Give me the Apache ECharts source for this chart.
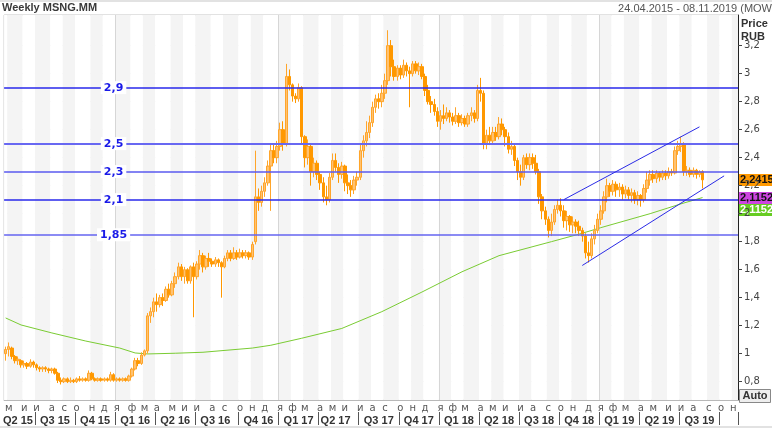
<!DOCTYPE html>
<html>
<head>
<meta charset="utf-8">
<script src="https://cdn.jsdelivr.net/npm/echarts@6/dist/echarts.min.js"></script>
<style>
  html, body { margin: 0; padding: 0; background: #fff; }
  #chart { width: 772px; height: 428px; }
</style>
</head>
<body>
<div id="chart"></div>
<script>
// weekly bars, 24.04.2015 .. 08.11.2019
const weekCount = 238;
const monthLetters = ["я", "ф", "м", "а", "м", "и", "и", "а", "с", "о", "н", "д"];

// [open, close, low, high]
const candles = [
  [1.00,1.03,0.95,1.05],[1.03,1.05,0.98,1.08],[1.04,0.98,0.96,1.05],[0.98,0.95,0.93,0.99],[0.95,0.96,0.92,0.98],
  [0.95,0.92,0.90,0.96],[0.92,0.93,0.90,0.95],[0.93,0.91,0.89,0.94],[0.91,0.94,0.90,0.96],[0.94,0.92,0.90,0.95],
  [0.92,0.90,0.88,0.93],[0.90,0.89,0.87,0.91],[0.89,0.90,0.87,0.91],[0.90,0.89,0.87,0.91],[0.89,0.88,0.86,0.90],
  [0.88,0.89,0.86,0.90],[0.89,0.86,0.85,0.90],[0.86,0.81,0.79,0.87],[0.81,0.80,0.78,0.83],[0.80,0.82,0.79,0.83],
  [0.82,0.80,0.79,0.83],[0.80,0.81,0.79,0.83],[0.81,0.80,0.79,0.82],[0.80,0.82,0.79,0.83],[0.82,0.81,0.80,0.84],
  [0.81,0.82,0.80,0.83],[0.82,0.81,0.80,0.83],[0.81,0.86,0.80,0.88],[0.86,0.82,0.81,0.87],[0.82,0.81,0.80,0.83],
  [0.81,0.82,0.80,0.83],[0.82,0.81,0.80,0.83],[0.81,0.82,0.80,0.83],[0.82,0.81,0.80,0.83],[0.81,0.85,0.80,0.87],
  [0.85,0.81,0.80,0.86],[0.81,0.82,0.80,0.83],[0.82,0.81,0.80,0.83],[0.81,0.82,0.80,0.83],[0.82,0.81,0.80,0.83],
  [0.81,0.84,0.80,0.85],[0.84,0.89,0.83,0.90],[0.89,0.95,0.88,0.97],[0.95,0.93,0.91,0.97],[0.93,0.99,0.92,1.01],
  [0.99,1.02,0.98,1.03],[1.02,1.27,1.00,1.29],[1.27,1.30,1.22,1.33],[1.30,1.37,1.26,1.40],[1.37,1.35,1.30,1.43],
  [1.35,1.40,1.33,1.42],[1.40,1.38,1.34,1.43],[1.38,1.46,1.37,1.48],[1.46,1.42,1.40,1.50],[1.42,1.50,1.41,1.52],
  [1.50,1.55,1.47,1.58],[1.55,1.62,1.53,1.65],[1.62,1.55,1.52,1.64],[1.55,1.60,1.50,1.62],[1.60,1.52,1.50,1.61],
  [1.52,1.62,1.50,1.63],[1.62,1.55,1.26,1.65],[1.55,1.64,1.53,1.66],[1.64,1.70,1.60,1.74],[1.70,1.62,1.58,1.72],
  [1.62,1.68,1.60,1.70],[1.68,1.66,1.62,1.72],[1.66,1.64,1.62,1.68],[1.64,1.67,1.62,1.69],[1.67,1.65,1.62,1.68],
  [1.65,1.62,1.40,1.66],[1.62,1.68,1.61,1.70],[1.68,1.72,1.66,1.74],[1.72,1.68,1.66,1.74],[1.68,1.72,1.67,1.76],
  [1.72,1.69,1.67,1.74],[1.69,1.72,1.68,1.75],[1.72,1.70,1.68,1.74],[1.70,1.72,1.68,1.74],[1.72,1.69,1.67,1.73],
  [1.69,1.78,1.67,1.80],[1.80,2.12,1.78,2.45],[2.12,2.08,2.02,2.18],[2.08,2.16,2.05,2.20],[2.16,2.22,2.12,2.26],
  [2.22,2.34,2.20,2.38],[2.34,2.45,2.02,2.50],[2.45,2.40,2.36,2.50],[2.40,2.48,2.36,2.52],[2.48,2.60,2.45,2.65],
  [2.60,2.50,2.45,2.66],[2.50,2.98,2.48,3.07],[2.98,2.92,2.88,3.03],[2.92,2.84,2.80,2.93],[2.84,2.82,2.79,2.86],
  [2.82,2.90,2.80,2.93],[2.90,2.55,2.50,2.91],[2.55,2.40,2.33,2.56],[2.40,2.48,2.35,2.53],[2.48,2.30,2.20,2.50],
  [2.30,2.36,2.26,2.40],[2.36,2.28,2.24,2.38],[2.28,2.22,2.17,2.30],[2.22,2.12,2.08,2.26],[2.12,2.10,2.06,2.20],
  [2.10,2.26,2.08,2.29],[2.26,2.38,2.24,2.43],[2.38,2.33,2.30,2.43],[2.33,2.28,2.22,2.36],[2.28,2.34,2.25,2.37],
  [2.34,2.22,2.16,2.35],[2.22,2.20,2.14,2.28],[2.20,2.17,2.12,2.24],[2.17,2.24,2.14,2.27],[2.24,2.26,2.20,2.30],
  [2.26,2.45,2.24,2.50],[2.45,2.52,2.40,2.56],[2.52,2.58,2.48,2.66],[2.58,2.65,2.54,2.70],[2.65,2.76,2.62,2.80],
  [2.76,2.82,2.72,2.85],[2.82,2.80,2.75,2.86],[2.80,2.86,2.76,2.92],[2.86,2.95,2.82,3.00],[2.95,3.20,2.92,3.31],
  [3.20,3.05,2.98,3.24],[3.05,2.98,2.95,3.10],[2.98,3.04,2.95,3.06],[3.04,2.99,2.96,3.06],[2.99,3.06,2.97,3.10],
  [3.06,3.02,2.98,3.08],[3.02,3.00,2.76,3.05],[3.00,3.07,2.98,3.09],[3.07,3.02,3.00,3.09],[3.02,3.05,2.99,3.08],
  [3.05,2.98,2.96,3.07],[2.98,2.88,2.84,3.00],[2.88,2.80,2.78,2.92],[2.80,2.78,2.72,2.84],[2.78,2.73,2.70,2.82],
  [2.73,2.66,2.62,2.76],[2.66,2.70,2.60,2.74],[2.70,2.68,2.64,2.78],[2.68,2.72,2.66,2.76],[2.72,2.69,2.65,2.74],
  [2.69,2.66,2.63,2.72],[2.66,2.70,2.64,2.76],[2.70,2.65,2.62,2.72],[2.65,2.68,2.63,2.71],[2.68,2.64,2.62,2.70],
  [2.64,2.70,2.62,2.72],[2.70,2.72,2.66,2.76],[2.72,2.68,2.65,2.74],[2.68,2.88,2.66,2.92],[2.88,2.86,2.80,2.97],
  [2.86,2.50,2.46,2.88],[2.50,2.56,2.46,2.60],[2.56,2.52,2.49,2.62],[2.52,2.58,2.50,2.62],[2.58,2.55,2.52,2.62],
  [2.55,2.64,2.53,2.69],[2.64,2.60,2.56,2.68],[2.60,2.55,2.48,2.62],[2.55,2.46,2.43,2.58],[2.46,2.48,2.42,2.52],
  [2.48,2.38,2.34,2.50],[2.38,2.30,2.24,2.40],[2.30,2.26,2.20,2.35],[2.26,2.40,2.24,2.42],[2.40,2.35,2.32,2.43],
  [2.35,2.40,2.31,2.43],[2.40,2.36,2.32,2.43],[2.36,2.30,2.28,2.42],[2.30,2.12,2.07,2.32],[2.12,2.02,1.96,2.14],
  [2.02,1.96,1.92,2.05],[1.96,1.88,1.83,1.98],[1.88,1.94,1.84,2.00],[1.94,2.03,1.92,2.06],[2.03,2.06,2.00,2.10],
  [2.06,2.02,1.98,2.11],[2.02,1.95,1.90,2.06],[1.95,1.98,1.88,2.02],[1.98,1.92,1.87,1.99],[1.92,1.94,1.86,1.98],
  [1.94,1.91,1.86,1.96],[1.91,1.88,1.84,1.95],[1.88,1.84,1.80,1.90],[1.84,1.72,1.68,1.86],[1.72,1.70,1.65,1.80],
  [1.70,1.82,1.68,1.86],[1.82,1.88,1.78,1.92],[1.88,1.96,1.86,2.00],[1.96,2.02,1.92,2.06],[2.02,2.12,2.00,2.16],
  [2.12,2.20,2.08,2.25],[2.20,2.16,2.12,2.22],[2.16,2.21,2.13,2.24],[2.21,2.17,2.12,2.23],[2.17,2.19,2.12,2.22],
  [2.19,2.14,2.10,2.21],[2.14,2.17,2.11,2.20],[2.17,2.13,2.10,2.19],[2.13,2.15,2.08,2.18],[2.15,2.10,2.07,2.17],
  [2.10,2.13,2.06,2.16],[2.13,2.10,2.05,2.14],[2.10,2.18,2.08,2.21],[2.18,2.24,2.15,2.30],[2.24,2.28,2.20,2.31],
  [2.28,2.25,2.22,2.31],[2.25,2.29,2.22,2.31],[2.29,2.26,2.23,2.30],[2.26,2.29,2.24,2.31],[2.29,2.27,2.24,2.31],
  [2.27,2.30,2.25,2.33],[2.30,2.29,2.27,2.32],[2.29,2.45,2.28,2.48],[2.45,2.48,2.42,2.52],[2.48,2.50,2.44,2.55],
  [2.50,2.30,2.27,2.51],[2.30,2.31,2.27,2.34],[2.31,2.28,2.26,2.33],[2.28,2.31,2.26,2.33],[2.31,2.28,2.25,2.32],
  [2.28,2.30,2.26,2.31],[2.30,2.2415,2.18,2.31]
];

// moving average, read at a few weeks (week index / value)
const maWeek = [0, 5, 15, 26, 37, 42, 46, 55, 64, 80, 86, 96, 109, 122, 135, 148, 160, 177, 187, 193, 209, 219, 226];
const maValue = [1.255, 1.205, 1.148, 1.09, 1.04, 1.005, 0.998, 1.003, 1.01, 1.04, 1.06, 1.11, 1.18, 1.30, 1.44, 1.585, 1.70, 1.80, 1.86, 1.90, 2.0, 2.07, 2.1152];

const levels = [2.9, 2.5, 2.3, 2.1, 1.85];
const levelNames = ["2,9", "2,5", "2,3", "2,1", "1,85"];
const levelColors = ["rgb(40,40,235)", "rgb(104,104,242)", "rgb(90,90,239)", "rgb(40,40,235)", "rgb(100,100,240)"];
const levelWidths = [1.5, 2, 1.6, 1.5, 1.6];

const channelUpper = [[181, 2.10], [225, 2.62]];
const channelLower = [[187, 1.63], [233, 2.27]];

const priceTicks = [0.8, 1, 1.2, 1.4, 1.6, 1.8, 2, 2.2, 2.4, 2.6, 2.8, 3, 3.2];
const lastPrice = 2.2415;
const indicatorLast = 2.1152;
const maLast = 2.1152;

const weeks = [];
for (let k = 0; k < weekCount; k++) {
  const d = new Date(Date.UTC(2015, 3, 24 + 7 * k));
  weeks.push(d.toISOString().slice(0, 10));
}
const monthOf = (v) => Number(v.slice(5, 7));
const dayOf = (v) => Number(v.slice(8, 10));
const isMonthStart = (i, v) => dayOf(v) <= 7;
const isYearStart = (i, v) => monthOf(v) === 1 && dayOf(v) <= 7;
const isQuarterStart = (i, v) => [1, 4, 7, 10].includes(monthOf(v)) && dayOf(v) <= 7;
const isQuarterMid = (i, v) => {
  if (i === 4) return true;
  return [2, 5, 8, 11].includes(monthOf(v)) && dayOf(v) >= 12 && dayOf(v) <= 18 && i > 8;
};
const comma = (v) => String(v).replace(".", ",");

const fontMain = "DejaVu Sans";
const fontNarrow = "Liberation Sans";
const chart = echarts.init(document.getElementById("chart"), null, { renderer: "canvas" });

chart.setOption({
  animation: false,
  backgroundColor: "#ffffff",
  grid: { left: 2, right: 34, top: 15, bottom: 28, show: true, borderColor: "#c4c4c4", borderWidth: 1 },
  xAxis: [
    {
      type: "category",
      data: weeks,
      boundaryGap: true,
      axisLine: { lineStyle: { color: "#b8b8b8" } },
      axisTick: { interval: isMonthStart, length: 3, lineStyle: { color: "#777" } },
      axisLabel: {
        interval: isMonthStart,
        formatter: (v) => monthLetters[monthOf(v) - 1],
        color: "#555",
        fontSize: 10,
        fontFamily: fontMain,
        margin: 3,
      },
      splitArea: { show: true, interval: isMonthStart, areaStyle: { color: ["#ffffff", "#f4f4f4"] } },
      splitLine: { show: true, interval: isYearStart, lineStyle: { color: "#d6d6d6", width: 1 } },
    },
    {
      type: "category",
      data: weeks,
      position: "bottom",
      offset: 12,
      axisLine: { show: false },
      axisTick: { show: true, interval: isQuarterStart, length: 13, lineStyle: { color: "#555" } },
      axisLabel: {
        interval: isQuarterMid,
        formatter: (v) => "Q" + Math.ceil(monthOf(v) / 3) + " " + v.slice(2, 4),
        color: "#333",
        fontWeight: "bold",
        fontSize: 11,
        fontFamily: fontNarrow,
        margin: 3,
      },
      splitArea: { show: false },
      splitLine: { show: false },
    },
  ],
  yAxis: {
    type: "value",
    position: "right",
    min: 0.669,
    max: 3.419,
    axisLine: { show: true, lineStyle: { color: "#222" } },
    axisTick: { show: true, customValues: priceTicks, length: 4, lineStyle: { color: "#444" } },
    axisLabel: { customValues: priceTicks, formatter: comma, color: "#444", fontSize: 10, fontFamily: fontMain, margin: 6 },
    splitLine: { show: true, lineStyle: { color: "#efefef" } },
  },
  series: [
    {
      name: "MA",
      type: "line",
      data: maWeek.map((w, j) => [w, maValue[j]]),
      symbol: "none",
      lineStyle: { color: "#7acc33", width: 1 },
      z: 3,
      silent: true,
    },
    {
      name: "MSNG.MM",
      type: "candlestick",
      data: candles,
      barWidth: 3,
      itemStyle: {
        color: "#ffc270",
        color0: "#ff9800",
        borderColor: "#ffa52a",
        borderColor0: "#ff9800",
        borderWidth: 1,
      },
      z: 4,
      silent: true,
    },
    {
      name: "levels",
      type: "line",
      data: [],
      silent: true,
      z: 5,
      markLine: {
        silent: true,
        symbol: "none",
        animation: false,
        label: { show: false },
        data: levels.map((v, j) => ({ yAxis: v, lineStyle: { color: levelColors[j], width: levelWidths[j], type: "solid" } }))
          .concat([
            [{ coord: [channelUpper[0][0], channelUpper[0][1]] }, { coord: [channelUpper[1][0], channelUpper[1][1]] }],
            [{ coord: [channelLower[0][0], channelLower[0][1]] }, { coord: [channelLower[1][0], channelLower[1][1]] }],
          ].map((p) => [p[0], Object.assign(p[1], { lineStyle: { color: "rgb(43,43,230)", width: 1, type: "solid" } })])),
      },
      markPoint: {
        silent: true,
        symbol: "rect",
        symbolSize: 1,
        itemStyle: { color: "rgba(0,0,0,0)" },
        label: {
          show: true,
          position: "inside",
          formatter: "{b}",
          color: "rgb(26,26,232)",
          fontWeight: "bold",
          fontSize: 11,
          fontFamily: fontMain,
          backgroundColor: "#ffffff",
          padding: [1, 3],
        },
        data: levels.map((v, j) => ({ name: levelNames[j], coord: [35, v] })),
      },
    },
  ],
});

const yOf = (v) => chart.convertToPixel({ yAxisIndex: 0 }, v);
const boxFont = "bold 11px " + fontNarrow;
const valueBox = (id, v, bg, fg, dy) => ({
  type: "group",
  id: id,
  x: 739,
  y: Math.round(yOf(v)) + dy,
  children: [
    { type: "rect", shape: { x: 0, y: -6, width: 34, height: 12 }, style: { fill: bg } },
    { type: "text", x: 1, y: 0, style: { text: comma(v), font: boxFont, fill: fg, verticalAlign: "middle" } },
  ],
});

chart.setOption({
  graphic: [
    { type: "rect", id: "topband", shape: { x: 0, y: 0, width: 772, height: 2 }, style: { fill: "#e2e2e2" }, silent: true },
    { type: "rect", id: "botband", shape: { x: 0, y: 426, width: 772, height: 2 }, style: { fill: "#e2e2e2" }, silent: true },
    { type: "text", id: "title", left: 2, top: 2, style: { text: "Weekly MSNG.MM", font: "bold 11px " + fontNarrow, fill: "#3a3a3a" } },
    { type: "text", id: "range", right: 0, top: 3, style: { text: "24.04.2015 - 08.11.2019 (MOW", font: "11px " + fontNarrow, fill: "#555" } },
    { type: "text", id: "pricename", left: 741, top: 17, style: { text: "Price\nRUB", font: "bold 11px " + fontNarrow, fill: "#333", lineHeight: 13 } },
    {
      type: "group", id: "auto", left: 739, top: 389,
      children: [
        { type: "rect", shape: { x: 0, y: 0, width: 31, height: 13 }, style: { fill: "#eeeeee", stroke: "#888" } },
        { type: "text", x: 3, y: 1, style: { text: "Auto", font: "bold 11px " + fontNarrow, fill: "#333" } },
      ],
    },
    valueBox("last", lastPrice, "#ff9900", "#111", 0),
    valueBox("ind", indicatorLast, "#cc44e0", "#111", 0),
    valueBox("ma", maLast, "#66cc22", "#fff", 12),
  ],
});
</script>
</body>
</html>
